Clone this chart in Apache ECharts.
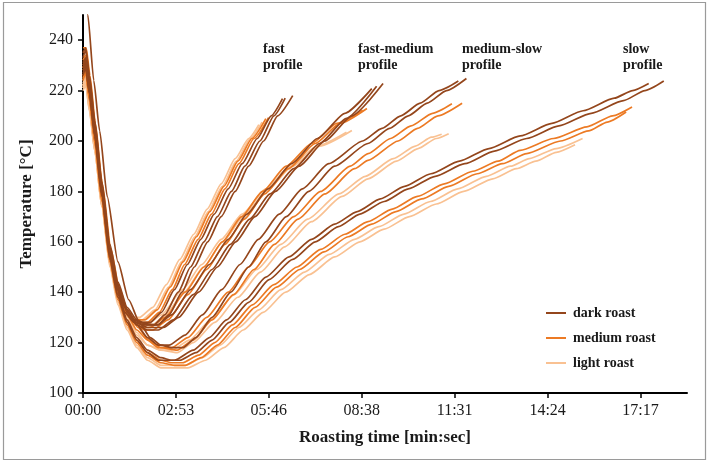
<!DOCTYPE html>
<html>
<head>
<meta charset="utf-8">
<script src="https://cdn.jsdelivr.net/npm/echarts@6.0.0/dist/echarts.min.js"></script>
<style>
  html, body { margin: 0; padding: 0; background: #fff; }
  #chart1 { width: 709px; height: 464px; }
</style>
</head>
<body>
<div id="chart1"></div>
<script>
// tick positions (seconds / degrees)
var xTicks = [0, 172.8, 345.6, 518.4, 691.2, 864, 1036.8];
var yTicks = [100, 120, 140, 160, 180, 200, 220, 240];

// roast levels, legend order
var roasts = ['dark roast', 'medium roast', 'light roast'];
var roastColors = ['#94461c', '#ec7a24', '#f9c192'];

// profile labels
var profileNames = ['fast\nprofile', 'fast-medium\nprofile', 'medium-slow\nprofile', 'slow\nprofile'];

// [time s, temperature °C]
var fastDark = [
  [[0,229],[5,231],[12,221],[22,204],[35,181],[50,157],[62,144],[78,134],[95,129],[115,127.5],[140,127],[160,131],[184,140],[207,150],[232,160],[257,170],[283,180],[308,190],[336,200],[362,210],[390,218]],
  [[0,226],[5,229],[12,219],[22,202],[35,179],[50,155],[62,142],[78,132],[95,128],[112,127],[132,127],[152,131],[177,140],[200,150],[225,160],[250,170],[276,180],[301,190],[329,200],[355,210],[376,217]],
  [[0,233],[5,236],[12,225],[22,207],[35,183],[50,158],[62,145],[78,134],[95,129],[110,128],[125,128],[146,132],[170,141],[194,151],[219,161],[244,171],[270,181],[296,191],[324,201],[350,210],[371,216.8]]
];
var fastMedium = [
  [[0,228],[5,230],[12,219],[22,201],[35,178],[50,154],[62,141],[78,132],[95,128],[120,128],[142,132],[166,141],[189,151],[214,161],[239,171],[264,181],[290,191],[318,201],[345,209.3]],
  [[0,224],[5,227],[12,216],[22,199],[35,176],[50,153],[62,141],[78,132],[92,129],[115,129],[138,133],[162,142],[186,152],[211,162],[236,172],[262,182],[288,192],[314,201],[340,208.9]]
];
var fastLight = [
  [[0,221],[5,224],[12,214],[22,198],[35,175],[50,152],[62,140],[78,132],[90,130],[110,129],[134,133],[159,142],[183,152],[208,162],[233,172],[259,182],[285,192],[311,201],[333,207.5]],
  [[0,220],[5,222],[12,212],[22,196],[35,174],[50,151],[62,140],[78,132],[90,130],[105,130],[130,134],[155,143],[180,153],[206,163],[231,173],[257,183],[283,193],[308,201],[327,206.5]]
];

var fmDark = [
  [[0,230],[5,232],[12,222],[22,204],[35,181],[50,157],[65,142],[82,133],[100,128],[120,126],[150,126],[178,130],[215,140],[250,150],[284,160],[320,170],[358,180],[402,190],[450,200],[500,210],[558,222.8]],
  [[0,227],[5,229],[12,219],[22,202],[35,179],[50,155],[65,141],[82,132],[100,127],[120,125],[140,125],[168,129],[205,139],[240,149],[274,159],[310,169],[348,179],[392,189],[440,199],[490,209],[546,221.7]],
  [[0,235],[5,237],[12,226],[22,208],[35,184],[50,159],[65,144],[82,134],[100,129],[120,127],[138,127],[165,131],[200,141],[235,151],[270,161],[305,171],[344,181],[388,191],[436,201],[487,211],[537,220.8]]
];
var fmMedium = [
  [[0,229],[5,231],[12,220],[22,202],[35,179],[50,155],[65,141],[82,132],[100,127],[115,125],[130,125],[158,129],[195,139],[230,149],[264,159],[300,169],[338,179],[382,189],[432,199],[478,207],[528,212.9]],
  [[0,225],[5,228],[12,217],[22,200],[35,177],[50,154],[65,140],[82,131],[100,127],[112,126],[125,126],[153,130],[190,140],[225,150],[259,160],[295,170],[334,180],[378,190],[425,199],[472,207],[520,212.2]]
];
var fmLight = [
  [[0,222],[5,225],[12,214],[22,198],[35,176],[50,153],[65,140],[82,131],[98,127],[110,126],[122,126],[150,130],[188,140],[224,150],[260,160],[298,170],[340,180],[390,190],[440,198],[500,204.2]],
  [[0,221],[5,223],[12,212],[22,196],[35,174],[50,152],[65,139],[82,131],[98,127],[108,127],[118,127],[146,131],[185,141],[221,151],[257,161],[296,171],[340,181],[385,190],[435,198],[490,203.5]]
];

var msDark = [
  [[0,262],[9,250],[20,224],[31,204],[45,178],[65,152],[85,137],[105,128],[125,122],[145,119],[165,118],[186,118],[210,122],[240,130],[275,140],[308,150],[340,160],[378,170],[420,180],[468,190],[530,199],[570,205],[605,210],[640,215],[676,220],[713,224.8]],
  [[0,231],[5,233],[12,222],[22,205],[35,181],[50,157],[65,142],[82,133],[100,127],[120,122],[140,119],[160,119],[190,123],[222,131],[258,141],[292,151],[326,161],[365,171],[408,181],[457,191],[520,200],[556,205],[591,210],[627,215],[662,220],[698,223.8]]
];
var msMedium = [
  [[0,237],[6,237],[13,226],[23,207],[36,183],[52,157],[67,142],[84,132],[102,126],[122,121],[145,118],[175,117],[205,121],[240,129],[280,139],[318,149],[356,159],[400,169],[450,179],[505,189],[530,192.3],[586,200],[622,205],[660,210],[705,215]],
  [[0,232],[5,234],[12,223],[22,205],[35,181],[50,156],[65,141],[82,131],[100,125],[120,121],[140,118],[165,118],[195,122],[230,130],[270,140],[308,150],[347,160],[392,170],[442,180],[497,190],[530,195],[572,201],[610,206],[650,211],[686,214.8]]
];
var msLight = [
  [[0,224],[5,227],[12,216],[22,199],[35,177],[50,153],[65,139],[82,130],[100,124],[120,119],[145,117],[175,116],[205,120],[245,128],[288,138],[330,148],[375,158],[425,168],[482,178],[530,185],[583,192],[623,197],[657,201],[680,202.9]],
  [[0,222],[5,224],[12,214],[22,197],[35,175],[50,152],[65,138],[82,129],[100,123],[120,119],[145,117],[165,117],[198,121],[238,129],[281,139],[323,149],[368,159],[418,169],[476,179],[525,186],[577,193],[618,198],[648,201.5],[667,202.7]]
];

var slowDark = [
  [[0,230],[5,232],[12,221],[22,203],[35,179],[50,154],[65,139],[82,129],[100,122],[120,117],[145,114],[165,113],[180,113],[210,116],[240,121],[272,128],[308,136],[346,145],[390,153],[432,160],[475,166],[515,171],[560,176],[605,181],[655,186],[710,191],[765,196],[825,201],[885,206],[945,211],[1005,216],[1045,220],[1080,223.8]],
  [[0,228],[5,230],[12,219],[22,202],[35,178],[50,153],[65,138],[82,128],[100,121],[120,116],[140,113],[170,113],[205,117],[235,122],[267,129],[302,137],[340,146],[383,154],[425,161],[468,167],[510,172],[553,177],[598,182],[647,187],[700,192],[755,197],[813,202],[872,207],[930,212],[988,217],[1022,220],[1052,222.8]]
];
var slowMedium = [
  [[0,229],[5,231],[12,220],[22,202],[35,178],[50,153],[65,138],[82,128],[100,121],[120,116],[145,113],[165,112],[185,112],[215,115],[245,120],[278,127],[315,135],[355,143],[398,150],[442,157],[487,163],[530,168],[575,173],[622,178],[672,183],[725,188],[772,192],[813,196.3],[875,201],[937,205.6],[985,210],[1021,213.5]],
  [[0,226],[5,228],[12,217],[22,200],[35,177],[50,152],[65,137],[82,127],[100,120],[120,115],[145,112],[170,111],[190,111],[220,114],[250,119],[283,126],[320,134],[360,142],[403,149],[448,156],[493,162],[537,167],[582,172],[630,177],[680,182],[733,187],[780,191],[825,195],[888,200],[940,204],[975,207.5],[1010,211.5]]
];
var slowLight = [
  [[0,223],[5,225],[12,214],[22,197],[35,175],[50,151],[65,136],[82,126],[100,119],[120,114],[145,111],[170,111],[190,111],[222,114],[255,119],[290,126],[327,133],[368,141],[412,148],[458,155],[505,161],[550,166],[597,171],[646,176],[697,181],[750,186],[795,190],[830,193],[880,197],[929,201]],
  [[0,222],[5,224],[12,213],[22,196],[35,174],[50,150],[65,135],[82,125],[100,118],[120,113],[145,110],[170,110],[195,110],[228,113],[262,118],[298,125],[335,132],[377,140],[421,147],[468,154],[515,160],[560,165],[607,170],[657,175],[708,180],[762,185],[806,189],[842,192],[880,195.5],[915,198.5]]
];

function mmss(v) {
  var s = Math.round(v);
  var m = Math.floor(s / 60);
  var r = s % 60;
  return (m < 10 ? '0' : '') + m + ':' + (r < 10 ? '0' : '') + r;
}

var dom = document.getElementById('chart1');
var myChart = echarts.init(dom, null, { renderer: 'canvas' });

var serif = '"Liberation Serif", "Times New Roman", serif';

var series = [];
function addCurves(curves, level) {
  curves.forEach(function (c) {
    series.push({
      type: 'line',
      name: roasts[level],
      data: c,
      symbol: 'none',
      smooth: 0.2,
      smoothMonotone: 'x',
      clip: true,
      z: 3 - level,
      lineStyle: { color: roastColors[level], width: 1.7 },
      itemStyle: { color: roastColors[level] }
    });
  });
}
// light first so darker curves sit on top
[fastLight, fmLight, msLight, slowLight].forEach(function (c) { addCurves(c, 2); });
[fastMedium, fmMedium, msMedium, slowMedium].forEach(function (c) { addCurves(c, 1); });
[fastDark, fmDark, msDark, slowDark].forEach(function (c) { addCurves(c, 0); });

var labelPos = [[263, 41], [358, 41], [462, 41], [623, 41]];

var option = {
  animation: false,
  backgroundColor: '#fff',
  grid: { left: 83, right: 22, top: 15, bottom: 71 },
  legend: {
    data: roasts,
    orient: 'vertical',
    left: 541,
    top: 301,
    icon: 'rect',
    itemWidth: 20,
    itemHeight: 2,
    itemGap: 11,
    textStyle: { fontFamily: serif, fontWeight: 'bold', fontSize: 14, color: '#1a1a1a', padding: [0, 0, 0, 2] }
  },
  xAxis: {
    type: 'value',
    min: 0,
    max: 1123.2,
    interval: 172.8,
    name: 'Roasting time [min:sec]',
    nameLocation: 'middle',
    nameGap: 36,
    nameTextStyle: { fontFamily: serif, fontWeight: 'bold', fontSize: 17, color: '#1a1a1a' },
    axisLine: { lineStyle: { color: '#000', width: 2 } },
    axisTick: { show: true, length: 5, customValues: xTicks, lineStyle: { color: '#000', width: 1.5 } },
    axisLabel: {
      customValues: xTicks,
      formatter: mmss,
      margin: 10,
      fontFamily: serif, fontSize: 16, color: '#1a1a1a'
    },
    splitLine: { show: false }
  },
  yAxis: {
    type: 'value',
    min: 100,
    max: 250,
    interval: 20,
    name: 'Temperature [°C]',
    nameLocation: 'middle',
    nameGap: 48,
    nameTextStyle: { fontFamily: serif, fontWeight: 'bold', fontSize: 17, color: '#1a1a1a' },
    axisLine: { show: true, lineStyle: { color: '#000', width: 2 } },
    axisTick: { show: true, length: 5, customValues: yTicks, lineStyle: { color: '#000', width: 1.5 } },
    axisLabel: {
      customValues: yTicks,
      margin: 10,
      fontFamily: serif, fontSize: 16, color: '#1a1a1a'
    },
    splitLine: { show: false }
  },
  graphic: [
    {
      type: 'rect',
      shape: { x: 3.5, y: 2.5, width: 702, height: 457 },
      style: { fill: 'none', stroke: '#9a9a9a', lineWidth: 1.2 },
      silent: true
    }
  ].concat(profileNames.map(function (t, i) {
    return {
      type: 'text',
      left: labelPos[i][0],
      top: labelPos[i][1],
      style: {
        text: t,
        font: 'bold 14px ' + serif,
        fill: '#1a1a1a',
        lineHeight: 16
      }
    };
  })),
  series: series
};

if (option && typeof option === 'object') {
  myChart.setOption(option);
}
</script>
</body>
</html>
